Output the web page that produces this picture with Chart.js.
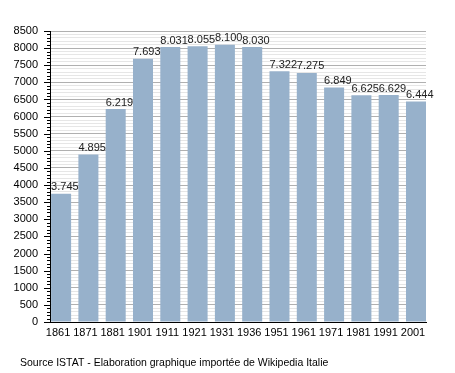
<!DOCTYPE html>
<html><head><meta charset="utf-8">
<script src="https://cdn.jsdelivr.net/npm/chart.js@4/dist/chart.umd.min.js"></script>
<style>html,body{margin:0;padding:0;background:#fff}#wrap{width:455px;height:373px}</style>
</head><body><div id="wrap"><canvas id="c" width="455" height="373"></canvas></div>
<script>
const years = ['1861','1871','1881','1901','1911','1921','1931','1936','1951','1961','1971','1981','1991','2001'];
const population = [3745,4895,6219,7693,8031,8055,8100,8030,7322,7275,6849,6625,6629,6444];
const yMax = 8500, yMajor = 500, yMinor = 100;
const sourceText = 'Source ISTAT - Elaboration graphique importée de Wikipedia Italie';

const FONT = '"Liberation Sans", Arial, sans-serif';
const fmt = v => String(v).replace(/\B(?=(\d{3})+(?!\d))/g, '.');
const BAR_FRAC = 0.733;

const extras = {
  id: 'extras',
  afterDraw(chart) {
    const ctx = chart.ctx, y = chart.scales.y, area = chart.chartArea;
    ctx.save();
    ctx.strokeStyle = '#000'; ctx.lineWidth = 1;
    for (let v = 0; v <= yMax; v += yMinor) {
      const py = Math.round(y.getPixelForValue(v)) + 0.5;
      const len = v % yMajor === 0 ? 6 : 3;
      ctx.beginPath(); ctx.moveTo(area.left - len, py); ctx.lineTo(area.left, py); ctx.stroke();
    }
    ctx.fillStyle = '#222'; ctx.font = '11px ' + FONT;
    ctx.textAlign = 'left'; ctx.textBaseline = 'bottom';
    chart.getDatasetMeta(0).data.forEach((bar, i) => {
      ctx.fillText(fmt(population[i]), bar.x - bar.width / 2, bar.y - 1);
    });
    ctx.fillStyle = '#000'; ctx.font = '10.5px ' + FONT;
    ctx.textBaseline = 'alphabetic';
    ctx.fillText(sourceText, 20, 366);
    ctx.restore();
  }
};

new Chart(document.getElementById('c'), {
  type: 'bar',
  data: {
    datasets: [{
      data: population.map((v, i) => ({x: i, y: v})),
      backgroundColor: '#97b1cb',
      borderWidth: 0,
      categoryPercentage: 1,
      barPercentage: BAR_FRAC
    }]
  },
  options: {
    responsive: false,
    animation: false,
    events: [],
    layout: {padding: {left: 0, right: 29, top: 31, bottom: 31}},
    plugins: {legend: {display: false}, tooltip: {enabled: false}},
    scales: {
      x: {
        type: 'linear',
        offset: false,
        min: -BAR_FRAC / 2 - 0.04, max: years.length - 1 + BAR_FRAC / 2,
        afterBuildTicks: s => { s.ticks = years.map((_, i) => ({value: i})); },
        afterFit: s => { s.height = 20; },
        grid: {display: false, drawTicks: false, offset: false},
        border: {color: '#000', width: 1},
        ticks: {
          autoSkip: false, maxRotation: 0, padding: 4, labelOffset: -3,
          color: '#000', font: {family: FONT, size: 11},
          callback: v => years[v] ?? ''
        }
      },
      y: {
        min: 0, max: yMax,
        afterFit: s => { s.width = 50; },
        afterBuildTicks: s => { const t = []; for (let v = 0; v <= yMax; v += yMinor) t.push({value: v}); s.ticks = t; },
        grid: {
          drawTicks: false,
          color: c => (c.tick && c.tick.value % yMajor === 0) ? '#b0b0b0' : '#e6e6e6',
          lineWidth: 1
        },
        border: {color: '#000', width: 1},
        ticks: {
          autoSkip: false, padding: 12,
          color: '#000', font: {family: FONT, size: 11},
          callback: v => v % yMajor === 0 ? String(v) : ''
        }
      }
    }
  },
  plugins: [extras]
});
</script></body></html>
